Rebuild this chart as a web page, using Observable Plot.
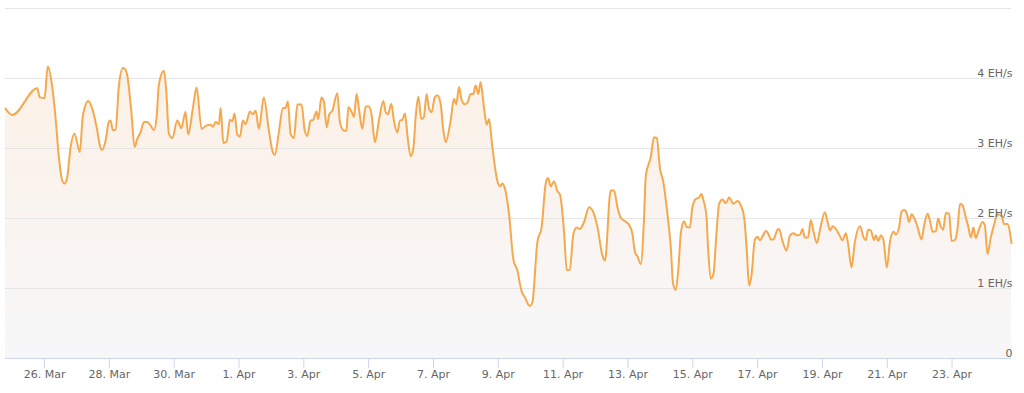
<!DOCTYPE html>
<html>
<head>
<meta charset="utf-8">
<script src="https://cdn.jsdelivr.net/npm/d3@7"></script>
<script src="https://cdn.jsdelivr.net/npm/@observablehq/plot@0.6"></script>
<style>
  html, body { margin: 0; padding: 0; background: #fff; }
  #chart { width: 1024px; height: 393px; overflow: hidden; }
</style>
</head>
<body>
<div id="chart"></div>
<script>
// Reference time: hours are measured from 26 Mar 00:00 (UTC)
const baseDate = "2024-03-26T00:00:00Z";

// Hours since baseDate for each sample
const hours = [
  -28.9, -23.9, -5.4, -3.5, 0, 2.4, 5.7, 8.1, 10.6, 13.1, 14.8, 16.8, 19.3, 22.2, 26.1, 28.4, 32.4, 35.3, 39.0, 41.0,
  42.7, 45.2, 47.6, 48.9, 50.6, 52.6, 55.0, 58.0, 59.5, 61.3, 64.2, 66.7, 68.7, 71.1, 73.6, 76.1, 78.5, 81.0, 83.0, 84.7,
  88.4, 90.1, 92.1, 94.6, 98.3, 101.3, 104.4, 106.4, 109.8, 112.6, 116.3, 120.0, 123.0, 124.7, 126.7, 129.1, 130.4, 132.4, 134.8, 137.3,
  139.0, 140.7, 142.7, 144.7, 146.9, 148.9, 152.1, 154.3, 156.3, 158.7, 162.4, 166.1, 168.7, 170.6, 173.5, 176.5, 178.5, 180.2, 182.2, 184.7,
  187.2, 190.4, 192.6, 194.6, 197.0, 199.0, 201.3, 202.7, 205.0, 206.9, 208.9, 210.9, 213.1, 216.8, 218.7, 221.3, 223.5, 225.0, 227.9, 229.1,
  231.1, 232.8, 235.3, 237.8, 240.2, 242.0, 244.7, 247.6, 250.9, 252.6, 254.3, 256.8, 258.7, 261.2, 263.2, 264.9, 266.9, 268.7, 271.1, 273.1,
  274.8, 276.8, 279.0, 280.9, 282.9, 284.7, 286.7, 288.9, 290.9, 293.3, 295.3, 297.0, 300.7, 303.2, 304.9, 306.9, 308.9, 311.3, 313.5, 315.5,
  317.5, 319.2, 321.2, 322.9, 325.4, 327.4, 329.1, 331.6, 335.3, 337.3, 339.0, 341.0, 343.9, 347.2, 350.1, 353.1, 355.8, 359.2, 361.2, 364.9,
  368.1, 371.1, 372.8, 374.8, 377.2, 379.8, 381.7, 384.6, 386.7, 388.9, 391.6, 394.1, 396.3, 399.5, 403.2, 406.1, 409.4, 413.1, 415.0, 419.2,
  421.7, 424.2, 426.7, 429.1, 432.8, 435.3, 437.2, 439.0, 441.5, 443.9, 445.2, 448.9, 451.3, 453.3, 455.8, 458.0, 461.2, 463.7, 465.4, 467.4,
  469.4, 471.1, 473.5, 475.5, 477.8, 479.7, 482.2, 484.6, 486.4, 487.9, 490.1, 491.3, 493.3, 495.3, 497.5, 499.5, 502.0, 504.4, 506.9, 510.1,
  513.1, 515.5, 518.0, 520.0, 521.7, 523.5, 525.9, 527.9, 529.8, 532.3, 534.0, 536.0, 537.8, 539.7, 542.7, 543.9, 546.4, 549.4, 552.0, 554.6,
  557.0, 559.5, 561.2, 563.0, 565.4, 567.4, 569.4, 571.9, 574.3, 577.8, 579.8, 581.7, 583.5, 586.0, 588.4, 590.9, 593.3, 595.0, 597.5, 600.0,
  603.9, 606.4, 608.1, 609.8, 611.8, 614.3, 615.5, 617.4, 619.2, 621.2, 623.7, 626.1, 628.7, 630.4, 632.8, 634.6, 636.5, 638.5, 640.2, 642.0,
  643.9, 646.4, 649.4, 651.3, 653.9, 655.8, 657.6, 660.0, 661.7, 663.7, 665.4, 667.4, 669.8, 671.6, 674.0, 676.0, 677.9, 679.7, 682.1, 683.8,
  685.9, 687.8, 689.5, 692.0, 694.6, 696.3, 698.2, 700.7, 703.2, 705.6, 708.6, 710.5, 713.0, 716.0
];

// Hashrate in EH/s
const hashrate = [
  3.57, 3.48, 3.86, 3.73, 3.72, 4.17, 3.88, 3.45, 2.88, 2.54, 2.50, 2.59, 3.02, 3.21, 2.95, 3.47, 3.68, 3.57, 3.26, 3.04,
  2.98, 3.11, 3.38, 3.40, 3.26, 3.27, 3.88, 4.15, 4.14, 4.04, 3.54, 3.02, 3.14, 3.23, 3.38, 3.38, 3.33, 3.26, 3.45, 3.92,
  4.11, 3.83, 3.21, 3.15, 3.40, 3.29, 3.52, 3.20, 3.57, 3.87, 3.28, 3.33, 3.34, 3.31, 3.38, 3.35, 3.58, 3.08, 3.10, 3.41,
  3.39, 3.50, 3.20, 3.17, 3.40, 3.35, 3.53, 3.49, 3.54, 3.28, 3.73, 3.26, 2.97, 2.91, 3.23, 3.58, 3.58, 3.67, 3.21, 3.15,
  3.63, 3.63, 3.26, 3.18, 3.40, 3.41, 3.53, 3.42, 3.73, 3.67, 3.30, 3.49, 3.54, 3.79, 3.38, 3.26, 3.25, 3.59, 3.50, 3.45,
  3.78, 3.57, 3.28, 3.60, 3.60, 3.50, 3.09, 3.40, 3.68, 3.52, 3.49, 3.64, 3.40, 3.23, 3.40, 3.41, 3.50, 3.19, 2.89, 3.00,
  3.45, 3.74, 3.42, 3.45, 3.78, 3.57, 3.52, 3.73, 3.76, 3.64, 3.26, 3.09, 3.40, 3.71, 3.63, 3.88, 3.69, 3.63, 3.67, 3.78,
  3.78, 3.90, 3.78, 3.95, 3.58, 3.34, 3.42, 3.02, 2.54, 2.46, 2.50, 2.42, 2.07, 1.41, 1.26, 0.97, 0.87, 0.75, 0.80, 1.66,
  1.88, 2.50, 2.58, 2.46, 2.53, 2.39, 2.34, 1.83, 1.26, 1.27, 1.78, 1.87, 1.85, 1.95, 2.16, 2.10, 1.88, 1.47, 1.40, 2.40,
  2.40, 2.16, 2.01, 1.97, 1.91, 1.78, 1.52, 1.46, 1.35, 2.00, 2.61, 2.88, 3.16, 3.15, 2.70, 2.54, 2.07, 1.59, 1.07, 0.98,
  1.30, 1.78, 1.96, 1.88, 1.87, 2.16, 2.28, 2.30, 2.35, 2.26, 2.04, 1.59, 1.14, 1.21, 1.78, 2.21, 2.27, 2.22, 2.30, 2.21,
  2.25, 2.19, 2.02, 1.54, 1.04, 1.19, 1.69, 1.74, 1.69, 1.77, 1.82, 1.78, 1.70, 1.70, 1.84, 1.85, 1.68, 1.54, 1.76, 1.79,
  1.76, 1.77, 1.85, 1.73, 1.73, 1.98, 1.81, 1.65, 1.85, 2.09, 1.95, 1.83, 1.89, 1.85, 1.77, 1.69, 1.79, 1.64, 1.30, 1.66,
  1.89, 1.73, 1.69, 1.84, 1.83, 1.69, 1.76, 1.68, 1.76, 1.69, 1.30, 1.68, 1.81, 1.77, 1.88, 2.10, 2.12, 2.07, 1.95, 2.06,
  2.01, 1.88, 1.70, 1.90, 2.07, 1.95, 1.81, 1.82, 2.00, 1.88, 1.84, 2.08, 2.07, 1.68, 1.69, 1.85, 2.21, 2.19, 2.02, 1.90,
  1.73, 1.87, 1.72, 1.85, 1.95, 1.90, 1.49, 1.73, 1.92, 2.06, 2.04, 1.92, 1.92, 1.65
];

// X tick dates and labels
const xTickDates = ["2024-03-26","2024-03-28","2024-03-30","2024-04-01","2024-04-03","2024-04-05","2024-04-07",
                    "2024-04-09","2024-04-11","2024-04-13","2024-04-15","2024-04-17","2024-04-19","2024-04-21","2024-04-23"];
const xTickLabels = ["26. Mar","28. Mar","30. Mar","1. Apr","3. Apr","5. Apr","7. Apr",
                     "9. Apr","11. Apr","13. Apr","15. Apr","17. Apr","19. Apr","21. Apr","23. Apr"];

// Y ticks and labels
const yGrid = [1, 2, 3, 4, 5];
const yTicks = [0, 1, 2, 3, 4];
const yTickLabels = ["0", "1 EH/s", "2 EH/s", "3 EH/s", "4 EH/s"];

const base = new Date(baseDate).getTime();
const data = hours.map((h, i) => ({ date: new Date(base + h * 3600e3), value: hashrate[i] }));
const xTicks = xTickDates.map(s => new Date(s + "T00:00:00Z"));
const labelOf = new Map(xTicks.map((d, i) => [+d, xTickLabels[i]]));
const yLabel = new Map(yTicks.map((v, i) => [v, yTickLabels[i]]));

const defs = () => {
  const g = d3.create("svg:defs");
  const lg = g.append("linearGradient").attr("id", "hashFill")
    .attr("x1", 0).attr("x2", 0).attr("y1", 0).attr("y2", 1);
  lg.append("stop").attr("offset", "0%").attr("stop-color", "#fcf1e6");
  lg.append("stop").attr("offset", "100%").attr("stop-color", "#f7f7f9");
  return g.node();
};

const chart = Plot.plot({
  width: 1024,
  height: 393,
  marginLeft: 5,
  marginRight: 13,
  marginTop: 8,
  marginBottom: 35,
  style: { fontFamily: "DejaVu Sans", fontSize: "11px", color: "#666", background: "#fff" },
  x: { type: "utc", axis: null },
  y: { domain: [0, 5], axis: null },
  marks: [
    defs,
    Plot.areaY(data, { x: "date", y: "value", fill: "url(#hashFill)", curve: "monotone-x" }),
    Plot.gridY(yGrid, { stroke: "#e6e6e6", strokeOpacity: 1, strokeWidth: 1 }),
    Plot.ruleY([0], { stroke: "#ccd6eb", strokeWidth: 1 }),
    Plot.lineY(data, { x: "date", y: "value", stroke: "#f4a94f", strokeWidth: 2, curve: "monotone-x" }),
    Plot.axisX({
      ticks: xTicks, tickSize: 10, tickPadding: 2,
      tickFormat: d => labelOf.get(+d), stroke: "#ccd6eb", fill: "#666",
      fontSize: 11, label: null
    }),
    Plot.text(yTicks, {
      y: d => d, text: d => yLabel.get(d), frameAnchor: "right", textAnchor: "end",
      dx: 1, dy: -5, fill: "#666", fontSize: 11
    })
  ]
});

document.getElementById("chart").appendChild(chart);
</script>
</body>
</html>
